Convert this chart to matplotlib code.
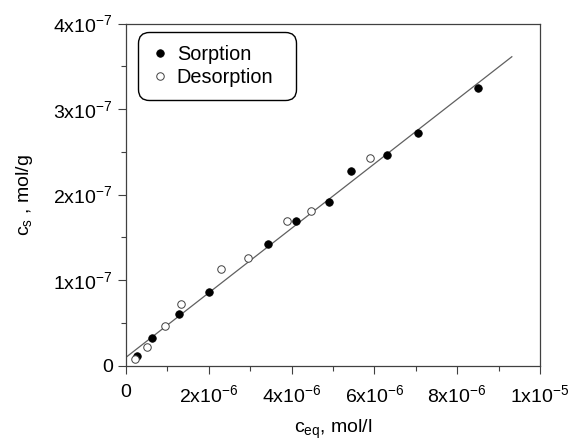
import matplotlib
matplotlib.use("Agg")
import matplotlib.pyplot as plt
import numpy as np
from matplotlib.ticker import MultipleLocator, FixedLocator, FixedFormatter

plt.rcParams['font.family'] = ['Liberation Sans', 'DejaVu Sans']
plt.rcParams['mathtext.fontset'] = 'custom'
plt.rcParams['mathtext.rm'] = 'Liberation Sans'
plt.rcParams['mathtext.it'] = 'Liberation Sans:italic'
plt.rcParams['mathtext.bf'] = 'Liberation Sans:bold'

# Data (x: mol/l, y: mol/g)
sorption_x = np.array([0.273, 0.621, 1.287, 2.005, 3.437, 4.099, 4.915, 5.435, 6.312, 7.053, 8.495]) * 1e-6
sorption_y = np.array([0.117, 0.320, 0.604, 0.865, 1.419, 1.695, 1.917, 2.279, 2.463, 2.724, 3.243]) * 1e-7

desorption_x = np.array([0.210, 0.500, 0.935, 1.329, 2.287, 2.940, 3.896, 4.476, 5.894]) * 1e-6
desorption_y = np.array([0.075, 0.222, 0.464, 0.718, 1.130, 1.259, 1.695, 1.808, 2.424]) * 1e-7

# Linear fit line
fit_x_range = np.array([0.0, 9.32e-6])
fit_intercept = 0.098e-7
fit_slope = 0.0377

x_ticks = [0, 2e-6, 4e-6, 6e-6, 8e-6, 1e-5]
x_tick_labels = ['0', '2x10$^{-6}$', '4x10$^{-6}$', '6x10$^{-6}$', '8x10$^{-6}$', '1x10$^{-5}$']
y_ticks = [0, 1e-7, 2e-7, 3e-7, 4e-7]
y_tick_labels = ['0', '1x10$^{-7}$', '2x10$^{-7}$', '3x10$^{-7}$', '4x10$^{-7}$']

fig = plt.figure(figsize=(5.83, 4.42), dpi=100)
ax = fig.add_axes([0.2161, 0.1726, 0.7101, 0.7742])

ax.plot(fit_x_range, fit_intercept + fit_slope * fit_x_range, color='#606060', lw=0.9, zorder=2)
ax.plot(sorption_x, sorption_y, 'o', ms=5.4, mfc='black', mec='black', mew=0.6,
        linestyle='none', label='Sorption', zorder=3)
ax.plot(desorption_x, desorption_y, 'o', ms=5.4, mfc='white', mec='#404040', mew=0.7,
        linestyle='none', label='Desorption', zorder=3)

ax.set_xlim(0, 1e-5)
ax.set_ylim(0, 4e-7)

ax.xaxis.set_major_locator(FixedLocator(x_ticks))
ax.xaxis.set_major_formatter(FixedFormatter(x_tick_labels))
ax.xaxis.set_minor_locator(MultipleLocator(1e-6))
ax.yaxis.set_major_locator(FixedLocator(y_ticks))
ax.yaxis.set_major_formatter(FixedFormatter(y_tick_labels))
ax.yaxis.set_minor_locator(MultipleLocator(0.5e-7))

for s in ax.spines.values():
    s.set_color('#404040')
    s.set_linewidth(0.9)

ax.tick_params(axis='both', which='major', direction='out', length=6, width=0.8,
               color='#404040', labelsize=14)
ax.tick_params(axis='both', which='minor', direction='out', length=3.5, width=0.8,
               color='#404040')
ax.tick_params(axis='x', which='major', pad=7)
ax.tick_params(axis='y', which='major', pad=3.5)

ax.set_xlabel('c$_{\\mathrm{eq}}$, mol/l', fontsize=14, labelpad=9)
ax.set_ylabel('c$_{\\mathrm{s}}$ , mol/g', fontsize=14, labelpad=13)

leg = ax.legend(loc='upper left', bbox_to_anchor=(0.029, 0.770, 0.382, 0.205),
                mode='expand', borderaxespad=0, fontsize=14.3, frameon=True,
                fancybox=True, edgecolor='black', framealpha=1,
                handlelength=0.9, handletextpad=0.4, borderpad=0.65,
                labelspacing=0.2)
leg.get_frame().set_linewidth(1.0)
leg.get_frame().set_boxstyle('round,pad=0,rounding_size=0.55')

fig.savefig('out.png', dpi=100)
